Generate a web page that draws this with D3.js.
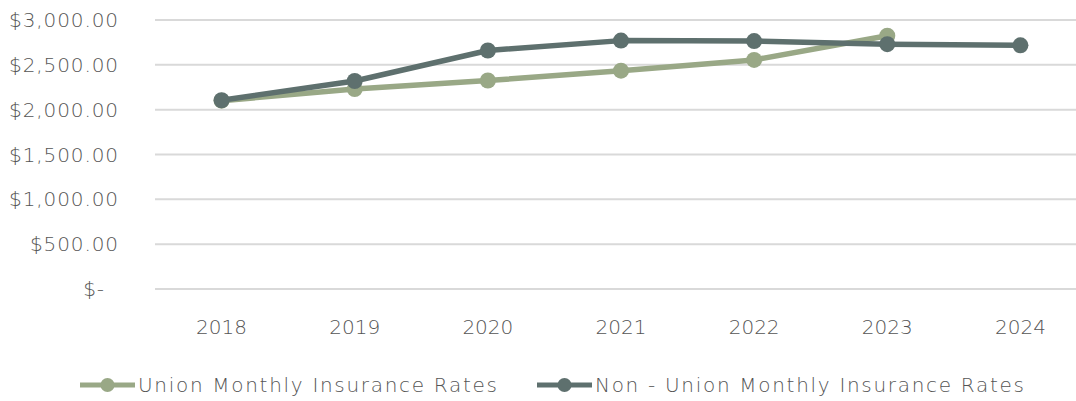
<!DOCTYPE html>
<html>
<head>
<meta charset="utf-8">
<script src="https://cdn.jsdelivr.net/npm/d3@7"></script>
<style>
  body { margin: 0; background: #fff; }
  svg text { font-family: "DejaVu Sans", sans-serif; font-weight: 200; fill: #555; }
</style>
</head>
<body>
<svg id="lineChart" width="1076" height="401"></svg>
<script>
var years = ["2018", "2019", "2020", "2021", "2022", "2023", "2024"];
var unionRates = [2100, 2230, 2325, 2435, 2555, 2825, null];
var nonUnionRates = [2105, 2320, 2660, 2770, 2765, 2730, 2718];
var yTicks = [0, 500, 1000, 1500, 2000, 2500, 3000];
var seriesNames = ["Union Monthly Insurance Rates", "Non - Union Monthly Insurance Rates"];
var colors = ["#99a886", "#5e706e"];

function createChart() {
  var svg = d3.select("svg#lineChart"),
      margin = {top: 20, right: -11, bottom: 112, left: 155},
      width = +svg.attr("width") - margin.left - margin.right,
      height = +svg.attr("height") - margin.top - margin.bottom,
      g = svg.append("g").attr("transform", "translate(" + margin.left + "," + margin.top + ")");

  var x = d3.scalePoint()
      .domain(years)
      .range([0, width])
      .padding(0.5);

  var y = d3.scaleLinear()
      .domain([0, 3000])
      .range([height, 0]);

  var fmt = function(d) { return d === 0 ? "$-" : "$" + d3.format(",.2f")(d); };

  // gridlines
  g.selectAll(".grid")
    .data(yTicks)
    .enter().append("line")
      .attr("x1", 0)
      .attr("x2", width)
      .attr("y1", function(d) { return y(d); })
      .attr("y2", function(d) { return y(d); })
      .attr("stroke", "#d9d9d9")
      .attr("stroke-width", 2);

  // y labels (accounting style: the dash sits left of the decimals)
  g.selectAll(".ylab")
    .data(yTicks)
    .enter().append("text")
      .attr("x", function(d) { return d === 0 ? -50 : -36; })
      .attr("y", function(d) { return y(d); })
      .attr("dy", "0.35em")
      .attr("text-anchor", "end")
      .style("font-size", "20px")
      .style("letter-spacing", "0.9px")
      .text(fmt);

  // x labels
  g.selectAll(".xlab")
    .data(years)
    .enter().append("text")
      .attr("x", function(d) { return x(d); })
      .attr("y", height + 38)
      .attr("dy", "0.35em")
      .attr("text-anchor", "middle")
      .style("font-size", "20px")
      .text(function(d) { return d; });

  var series = [unionRates, nonUnionRates];
  var line = d3.line()
      .defined(function(d) { return d != null; })
      .x(function(d, i) { return x(years[i]); })
      .y(function(d) { return y(d); });

  series.forEach(function(vals, k) {
    g.append("path")
      .attr("d", line(vals))
      .attr("fill", "none")
      .attr("stroke", colors[k])
      .attr("stroke-width", 5.5)
      .attr("stroke-linejoin", "round");
    g.selectAll(".pt" + k)
      .data(vals.map(function(v, i) { return {v: v, i: i}; }).filter(function(d) { return d.v != null; }))
      .enter().append("circle")
        .attr("cx", function(d) { return x(years[d.i]); })
        .attr("cy", function(d) { return y(d.v); })
        .attr("r", 8)
        .attr("fill", colors[k]);
  });

  // legend
  var legendX = [80, 537];
  var legend = svg.selectAll(".legend")
    .data(seriesNames)
    .enter().append("g")
      .attr("transform", function(d, i) { return "translate(" + legendX[i] + ",385)"; });

  legend.append("line")
      .attr("x1", 0)
      .attr("x2", 55)
      .attr("stroke", function(d, i) { return colors[i]; })
      .attr("stroke-width", 5);

  legend.append("circle")
      .attr("cx", 27.5)
      .attr("r", 7)
      .attr("fill", function(d, i) { return colors[i]; });

  legend.append("text")
      .attr("x", 58)
      .attr("dy", "0.35em")
      .style("font-size", "20px")
      .style("letter-spacing", "1.7px")
      .text(function(d) { return d; });
}

createChart();
</script>
</body>
</html>
